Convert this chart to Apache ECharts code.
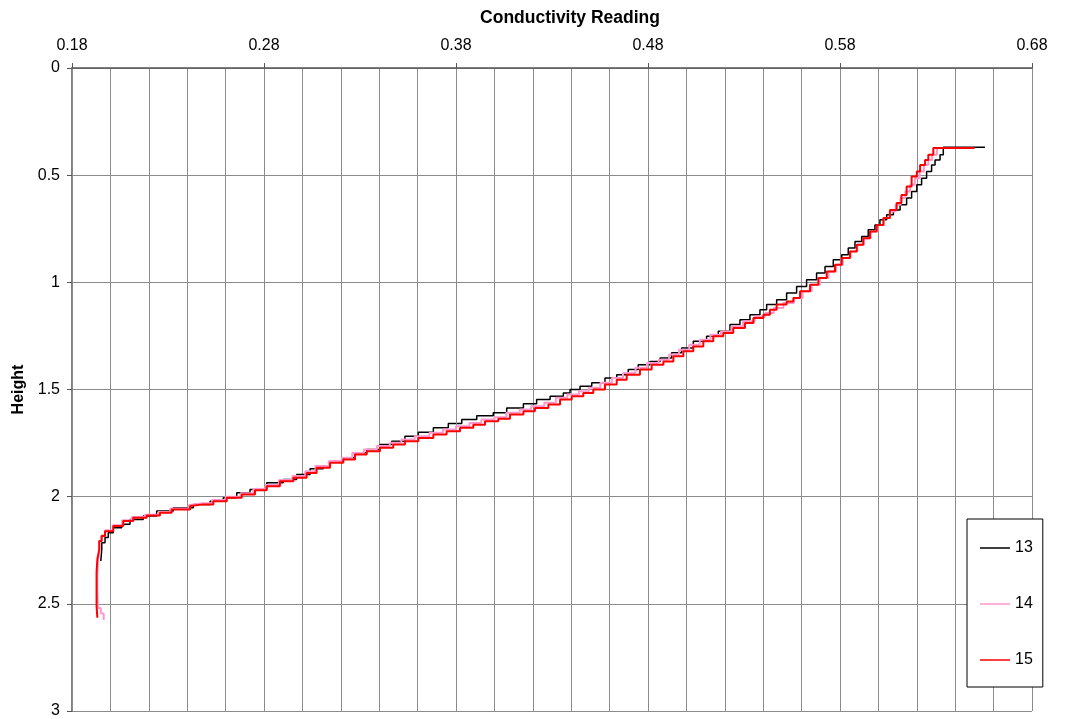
<!DOCTYPE html>
<html>
<head>
<meta charset="utf-8">
<script src="https://cdn.jsdelivr.net/npm/echarts@6/dist/echarts.min.js"></script>
<style>
html,body{margin:0;padding:0;background:#fff;}
#chart{width:1066px;height:719px;}
</style>
</head>
<body>
<div id="chart"></div>
<script>
// Series names
const seriesNames = ['13', '14', '15'];
// Tick values
const xTickValues = [0.18, 0.28, 0.38, 0.48, 0.58, 0.68];
const yTickValues = [0, 0.5, 1, 1.5, 2, 2.5, 3];

// [conductivity, height] pairs
const s13 = [[0.6555,0.370],[0.6356,0.370],[0.6338,0.405],[0.6321,0.429],[0.6295,0.452],[0.6277,0.483],[0.6251,0.514],[0.6225,0.545],[0.620,0.576],[0.6173,0.607],[0.6147,0.638],[0.6113,0.662],[0.6078,0.685],[0.6043,0.708],[0.6008,0.732],[0.5982,0.755],[0.5947,0.786],[0.5913,0.809],[0.5878,0.840],[0.5843,0.871],[0.5809,0.895],[0.5765,0.926],[0.5722,0.957],[0.5678,0.988],[0.5626,1.019],[0.5574,1.050],[0.5522,1.081],[0.547,1.104],[0.5418,1.128],[0.5383,1.151],[0.5331,1.174],[0.5279,1.197],[0.5227,1.228],[0.5166,1.252],[0.5105,1.275],[0.5036,1.306],[0.4975,1.329],[0.4923,1.353],[0.4863,1.369],[0.481,1.384],[0.4749,1.407],[0.4697,1.431],[0.4637,1.446],[0.4576,1.469],[0.4507,1.485],[0.4446,1.500],[0.4394,1.516],[0.4359,1.531],[0.429,1.547],[0.422,1.566],[0.4151,1.586],[0.4064,1.609],[0.3994,1.622],[0.3908,1.640],[0.383,1.659],[0.376,1.679],[0.3682,1.699],[0.3604,1.718],[0.3534,1.741],[0.3465,1.757],[0.3404,1.780],[0.3335,1.795],[0.3274,1.819],[0.3213,1.834],[0.3144,1.857],[0.3109,1.870],[0.304,1.896],[0.297,1.920],[0.29,1.935],[0.2814,1.966],[0.2727,1.982],[0.2658,2.005],[0.2588,2.021],[0.2519,2.036],[0.2432,2.052],[0.2328,2.067],[0.2241,2.090],[0.2171,2.106],[0.2102,2.129],[0.2059,2.145],[0.2015,2.168],[0.1989,2.191],[0.1972,2.215],[0.1955,2.246],[0.1950,2.300]];

const s14 = [[0.648,0.373],[0.632,0.373],[0.6305,0.405],[0.628,0.429],[0.626,0.452],[0.6237,0.483],[0.6215,0.514],[0.619,0.545],[0.6165,0.576],[0.614,0.607],[0.6115,0.638],[0.609,0.669],[0.606,0.700],[0.6028,0.732],[0.5995,0.763],[0.596,0.794],[0.5925,0.825],[0.589,0.856],[0.5855,0.887],[0.5815,0.918],[0.578,0.949],[0.574,0.980],[0.5695,1.011],[0.5652,1.042],[0.5605,1.073],[0.556,1.097],[0.5505,1.120],[0.5455,1.143],[0.541,1.159],[0.5355,1.182],[0.5295,1.205],[0.5235,1.229],[0.518,1.244],[0.5125,1.268],[0.507,1.291],[0.5015,1.314],[0.4962,1.337],[0.491,1.361],[0.4855,1.376],[0.4795,1.399],[0.4735,1.423],[0.467,1.446],[0.4612,1.469],[0.4552,1.492],[0.4492,1.508],[0.444,1.523],[0.438,1.539],[0.432,1.562],[0.426,1.578],[0.4192,1.593],[0.4132,1.609],[0.4062,1.629],[0.4,1.640],[0.3932,1.656],[0.387,1.671],[0.38,1.687],[0.3732,1.702],[0.3662,1.718],[0.3585,1.733],[0.3515,1.749],[0.3455,1.764],[0.3388,1.780],[0.332,1.796],[0.326,1.819],[0.3205,1.834],[0.3138,1.857],[0.3068,1.881],[0.3015,1.904],[0.2948,1.922],[0.2878,1.945],[0.2808,1.964],[0.2745,1.984],[0.2678,2.000],[0.26,2.016],[0.253,2.031],[0.2478,2.040],[0.2408,2.055],[0.2312,2.071],[0.225,2.084],[0.218,2.095],[0.2112,2.110],[0.2062,2.133],[0.2012,2.157],[0.1972,2.180],[0.1955,2.207],[0.1942,2.250],[0.1935,2.300],[0.1932,2.360],[0.1932,2.440],[0.1935,2.520],[0.1950,2.545],[0.1965,2.575]];

const s15 = [[0.650,0.373],[0.6303,0.373],[0.6286,0.405],[0.626,0.429],[0.6243,0.452],[0.6217,0.483],[0.620,0.506],[0.6173,0.553],[0.6147,0.592],[0.612,0.630],[0.6095,0.662],[0.606,0.700],[0.6026,0.732],[0.5991,0.763],[0.5956,0.794],[0.5921,0.825],[0.5887,0.856],[0.5852,0.887],[0.5809,0.918],[0.5774,0.949],[0.5731,0.980],[0.5687,1.011],[0.5644,1.042],[0.5592,1.073],[0.5557,1.089],[0.5522,1.104],[0.547,1.128],[0.5435,1.151],[0.5401,1.166],[0.5349,1.190],[0.5305,1.213],[0.5244,1.236],[0.5192,1.252],[0.514,1.275],[0.5088,1.299],[0.5036,1.322],[0.4984,1.345],[0.4932,1.369],[0.488,1.384],[0.4819,1.407],[0.4758,1.431],[0.4689,1.454],[0.4637,1.477],[0.4576,1.500],[0.4515,1.516],[0.4463,1.531],[0.4403,1.547],[0.4342,1.570],[0.4281,1.586],[0.4211,1.601],[0.4151,1.617],[0.4081,1.637],[0.4020,1.648],[0.3951,1.664],[0.389,1.679],[0.3821,1.695],[0.3751,1.710],[0.3682,1.726],[0.3604,1.741],[0.3534,1.757],[0.3473,1.772],[0.3404,1.788],[0.3335,1.803],[0.3274,1.827],[0.3213,1.842],[0.3144,1.865],[0.3074,1.889],[0.3022,1.912],[0.2953,1.928],[0.2883,1.951],[0.2814,1.970],[0.2753,1.990],[0.2684,2.005],[0.2606,2.021],[0.2536,2.036],[0.2484,2.044],[0.2415,2.060],[0.2319,2.075],[0.2258,2.088],[0.2189,2.098],[0.2119,2.114],[0.2067,2.137],[0.2015,2.161],[0.1972,2.184],[0.1954,2.207],[0.1942,2.246],[0.1932,2.292],[0.1928,2.354],[0.1928,2.432],[0.1928,2.510],[0.1932,2.565]];

const chart = echarts.init(document.getElementById('chart'), null, {renderer: 'canvas'});
const font = 'Liberation Sans, Arial, sans-serif';
const lineDefs = [
  {data: s13, color: '#000000', width: 1.5},
  {data: s14, color: '#ff99cc', width: 2},
  {data: s15, color: '#ff0000', width: 2}
];
const option = {
  animation: false,
  backgroundColor: '#ffffff',
  textStyle: {fontFamily: font},
  grid: {left: 72, right: 34, top: 68, bottom: 7, containLabel: false},
  xAxis: [{
    type: 'value', position: 'top', min: 0.18, max: 0.68, interval: 0.02,
    name: 'Conductivity Reading', nameLocation: 'middle', nameGap: 41,
    nameTextStyle: {fontSize: 17.5, fontWeight: 'bold', color: '#000', fontFamily: font, padding: [0, 0, 0, 36]},
    axisLine: {show: true, onZero: false, lineStyle: {color: '#555', width: 1.5}},
    axisTick: {show: true, inside: false, length: 5, customValues: xTickValues, lineStyle: {color: '#555'}},
    axisLabel: {show: true, margin: 14, fontSize: 16, color: '#000', fontFamily: font,
      customValues: xTickValues, formatter: v => v.toFixed(2)},
    splitLine: {show: true, lineStyle: {color: '#8c8c8c', width: 1}},
    z: 3
  }, {
    type: 'value', position: 'top', min: 0.18, max: 0.68, interval: 0.02,
    axisLine: {show: false}, axisTick: {show: false}, axisLabel: {show: false},
    splitLine: {show: true, lineStyle: {color: '#8c8c8c', width: 1}}
  }],
  yAxis: {
    type: 'value', inverse: true, min: 0, max: 3, interval: 0.5,
    name: 'Height', nameLocation: 'middle', nameGap: 44, nameRotate: 90,
    nameTextStyle: {fontSize: 16, fontWeight: 'bold', color: '#000', fontFamily: font},
    axisLine: {show: true, onZero: false, lineStyle: {color: '#555', width: 1.5}},
    axisTick: {show: true, inside: false, length: 5, lineStyle: {color: '#555'}},
    axisLabel: {show: true, margin: 12, fontSize: 16, color: '#000', fontFamily: font,
      formatter: v => String(v)},
    splitLine: {show: true, lineStyle: {color: '#8c8c8c', width: 1}}
  },
  legend: {
    data: seriesNames, orient: 'vertical', left: 967, top: 519,
    padding: [21, 10, 19, 13], itemWidth: 30, itemHeight: 14, itemGap: 40,
    icon: 'path://M0,0 L30,0 L30,1.5 L0,1.5 Z',
    borderColor: '#000', borderWidth: 1, backgroundColor: '#fff',
    textStyle: {fontSize: 16, color: '#000', fontFamily: font}
  },
  series: lineDefs.map((d, i) => ({
    name: seriesNames[i], type: 'line', data: d.data, step: 'end',
    xAxisIndex: 0, yAxisIndex: 0,
    symbol: 'none', z: 2 + i,
    lineStyle: {color: d.color, width: d.width},
    itemStyle: {color: d.color}
  }))
};
chart.setOption(option);
</script>
</body>
</html>
